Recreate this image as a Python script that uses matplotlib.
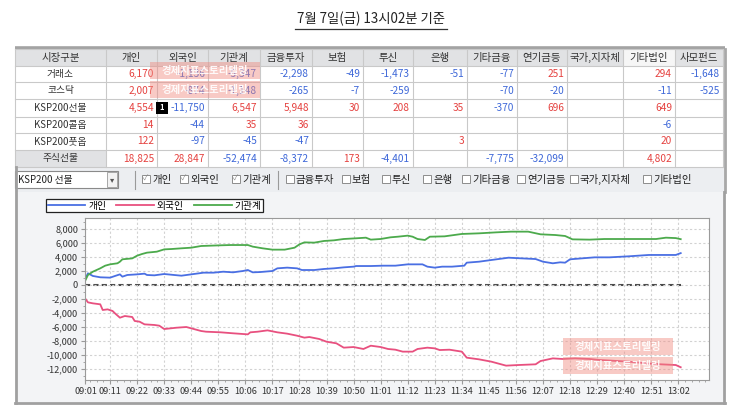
import matplotlib
matplotlib.use("Agg")
import matplotlib.pyplot as plt
from matplotlib.patches import Rectangle
import numpy as np

plt.rcParams['font.family'] = ['Noto Sans CJK KR', 'DejaVu Sans']

# ---- data ----
title = "7월 7일(금) 13시02분 기준"

col_names = ["개인", "외국인", "기관계", "금융투자", "보험", "투신", "은행",
             "기타금융", "연기금등", "국가,지자체", "기타법인", "사모펀드"]
row_names = ["거래소", "코스닥", "KSP200선물", "KSP200콜옵", "KSP200풋옵", "주식선물"]
tbl_vals = [
    [6170, -1136, -5347, -2298, -49, -1473, -51, -77, 251, None, 294, -1648],
    [2007, -874, -1148, -265, -7, -259, None, -70, -20, None, -11, -525],
    [4554, -11750, 6547, 5948, 30, 208, 35, -370, 696, None, 649, None],
    [14, -44, 35, 36, None, None, None, None, None, None, -6, None],
    [122, -97, -45, -47, None, None, 3, None, None, None, 20, None],
    [18825, 28847, -52474, -8372, 173, -4401, None, -7775, -32099, None, 4802, None],
]

checks = ["개인", "외국인", "기관계"]
unchecks = ["금융투자", "보험", "투신", "은행", "기타금융", "연기금등", "국가,지자체", "기타법인"]

# minutes after 09:00
gaein_t = [1, 2, 4, 7, 11, 13, 15, 16, 18, 22, 25, 26, 29, 33, 37, 40, 44, 49, 53, 57,
           61, 65, 67, 69, 72, 77, 79, 83, 87, 89, 94, 98, 102, 106, 110, 111, 117, 122,
           127, 132, 138, 140, 143, 146, 150, 155, 156, 161, 166, 173, 178, 184, 187, 191,
           194, 196, 198, 203, 208, 214, 222, 230, 241, 243]
gaein_v = [950, 1670, 1290, 1100, 1050, 1290, 1520, 1190, 1430, 1520, 1620, 1430, 1380,
           1570, 1430, 1330, 1520, 1760, 1760, 1900, 1810, 2000, 2140, 1810, 1850, 2000,
           2380, 2480, 2380, 2140, 2140, 2290, 2380, 2520, 2620, 2710, 2710, 2760, 2760,
           2950, 2950, 2620, 2480, 2620, 2620, 2760, 3190, 3330, 3570, 3900, 3810, 3710,
           3330, 3100, 3240, 3190, 3670, 3810, 3950, 3950, 4100, 4290, 4290, 4554]

foreign_t = [1, 2, 4, 7, 8, 10, 12, 13, 15, 17, 20, 21, 23, 25, 29, 31, 33, 38, 42, 44,
             48, 50, 56, 61, 67, 68, 71, 75, 79, 83, 87, 90, 92, 96, 99, 103, 106, 110,
             114, 117, 121, 124, 127, 130, 134, 136, 140, 143, 145, 149, 154, 156, 161,
             166, 172, 177, 184, 186, 191, 195, 200, 206, 210, 215, 222, 229, 235, 241, 243]
foreign_v = [-2000, -2480, -2620, -2760, -3570, -3480, -3710, -4050, -4670, -4430, -4570,
             -5140, -5240, -5620, -5710, -5810, -6290, -6100, -6000, -6190, -6570, -6670,
             -6760, -6900, -7050, -6760, -6670, -6480, -6760, -6950, -7240, -7520, -7430,
             -7710, -8100, -8330, -8950, -8860, -9140, -8670, -8860, -9140, -9240, -9520,
             -9520, -9140, -8950, -9050, -9290, -9240, -9520, -10380, -10620, -10950,
             -11520, -11430, -11330, -10860, -10480, -10570, -10480, -10570, -10710,
             -10810, -10950, -11190, -11330, -11430, -11750]

inst_t = [1, 2, 4, 7, 9, 11, 14, 15, 16, 20, 22, 24, 26, 30, 33, 36, 40, 44, 48, 52, 56,
          60, 67, 69, 73, 77, 82, 86, 88, 90, 94, 98, 102, 106, 111, 115, 117, 121, 125,
          128, 132, 134, 136, 139, 141, 147, 154, 161, 168, 174, 181, 186, 192, 196, 199,
          206, 212, 233, 237, 241, 243]
inst_v = [700, 1430, 1900, 2380, 2760, 2950, 3100, 3330, 3670, 3800, 4190, 4430, 4620,
          4760, 5090, 5140, 5240, 5330, 5570, 5620, 5670, 5710, 5710, 5480, 5240, 5050,
          5050, 5330, 5810, 6090, 6050, 6290, 6380, 6570, 6670, 6760, 6480, 6570, 6810,
          6900, 7050, 6900, 6570, 6430, 6900, 6950, 7290, 7380, 7520, 7620, 7620, 7240,
          7140, 7000, 6520, 6480, 6570, 6570, 6760, 6700, 6547]

tick_labels = ["09:01", "09:11", "09:22", "09:33", "09:44", "09:55", "10:06", "10:17",
               "10:28", "10:39", "10:50", "11:01", "11:12", "11:23", "11:34", "11:45",
               "11:56", "12:07", "12:18", "12:29", "12:40", "12:51", "13:02"]
y_ticks = [8000, 6000, 4000, 2000, 0, -2000, -4000, -6000, -8000, -10000, -12000]

RED = "#e5413f"
BLUE = "#3d67d8"
C_GAEIN = "#4a6fe3"
C_FOREIGN = "#e8507f"
C_INST = "#4caa4c"

W, H = 743, 420
fig = plt.figure(figsize=(W / 100, H / 100), dpi=100)
fig.patch.set_facecolor("white")

# background axes in pixel coordinates for the screen widgets
bg = fig.add_axes([0, 0, 1, 1])
bg.set_xlim(0, W)
bg.set_ylim(H, 0)
bg.axis("off")

# title
bg.text(371, 19, title, ha="center", va="center", fontsize=9.6, color="#222")
bg.plot([295, 447], [28.5, 28.5], color="#333", lw=0.9)
bg.plot([15, 725], [47.5, 47.5], color="#a3a3a3", lw=2.6, solid_capstyle="butt")

# table
col_x = [15, 106, 157, 208, 260, 312, 363, 413, 467, 517, 567, 623, 675, 723]
row_y = [49, 66, 82, 99, 117, 133, 150, 167]
GRID = "#c9c9c9"
HEAD = "#e1e2e4"
bg.add_patch(Rectangle((col_x[0], row_y[0]), col_x[-1] - col_x[0], row_y[-1] - row_y[0],
                       fc="white", ec="none"))
for j in range(len(col_x) - 1):
    fc = "#f6f6f6" if j == 11 else HEAD
    bg.add_patch(Rectangle((col_x[j], row_y[0]), col_x[j + 1] - col_x[j], row_y[1] - row_y[0],
                           fc=fc, ec="none"))
bg.add_patch(Rectangle((col_x[0], row_y[6]), col_x[1] - col_x[0], row_y[7] - row_y[6],
                       fc=HEAD, ec="none"))
for x in col_x:
    bg.plot([x, x], [row_y[0], row_y[-1]], color=GRID, lw=0.8)
for y in row_y:
    bg.plot([col_x[0], col_x[-1]], [y, y], color=GRID, lw=0.8)
bg.plot([col_x[-1] + 1.5, col_x[-1] + 1.5], [row_y[0], 192], color="#a8a8a8", lw=2)

bg.text((col_x[0] + col_x[1]) / 2, (row_y[0] + row_y[1]) / 2, "시장구분",
        ha="center", va="center", fontsize=7.5, color="#333")
for j, name in enumerate(col_names):
    bg.text((col_x[j + 1] + col_x[j + 2]) / 2, (row_y[0] + row_y[1]) / 2, name,
            ha="center", va="center", fontsize=7.5, color="#333")
for i, name in enumerate(row_names):
    yc = (row_y[i + 1] + row_y[i + 2]) / 2
    bg.text((col_x[0] + col_x[1]) / 2, yc, name, ha="center", va="center",
            fontsize=7, color="#333")
    for j, v in enumerate(tbl_vals[i]):
        if v is None:
            continue
        bg.text(col_x[j + 2] - 3, yc, f"{v:,}", ha="right", va="center", fontsize=7.3,
                color=RED if v > 0 else BLUE)

# control bar
bg.add_patch(Rectangle((15, 167), 710, 25, fc="#eceef1", ec="none"))
bg.add_patch(Rectangle((15, 171), 103, 17, fc="white", ec="#8a8a8a", lw=0.8))
bg.add_patch(Rectangle((107, 172), 10, 15, fc="#f2f2f2", ec="#9a9a9a", lw=0.6))
bg.text(112, 179.5, "▾", ha="center", va="center", fontsize=6, color="#555")
bg.text(18, 179.5, "KSP200 선물", ha="left", va="center", fontsize=7, color="#222")
bg.plot([135, 135], [171, 189], color="#9a9a9a", lw=0.8)
bg.plot([278, 278], [171, 189], color="#9a9a9a", lw=0.8)
check_x = [142, 180, 232]
for x, name in zip(check_x, checks):
    bg.add_patch(Rectangle((x, 175), 8, 8, fc="white", ec="#8c8c8c", lw=0.7))
    bg.text(x + 4, 179.3, "✓", ha="center", va="center", fontsize=5.5, color="#8a8a8a")
    bg.text(x + 10, 179.5, name, ha="left", va="center", fontsize=7.5, color="#222")
uncheck_x = [286, 342, 382, 423, 462, 517, 570, 643]
for x, name in zip(uncheck_x, unchecks):
    bg.add_patch(Rectangle((x, 175), 8, 8, fc="white", ec="#8c8c8c", lw=0.7))
    bg.text(x + 10, 179.5, name, ha="left", va="center", fontsize=7.5, color="#222")

# chart panel
bg.add_patch(Rectangle((15, 192), 708, 210, fc="#f3f4f6", ec="none"))
bg.plot([15.5, 15.5], [167, 403], color="#a0a0a0", lw=2)
bg.plot([15, 725], [402.5, 402.5], color="#a0a0a0", lw=2)
bg.plot([723.5, 723.5], [192, 403], color="#a0a0a0", lw=2)

# ---- line chart ----
ax = fig.add_axes([85 / W, 1 - 380 / H, (709 - 85) / W, (380 - 218) / H])
ax.set_facecolor("white")
l1, = ax.plot(gaein_t, gaein_v, color=C_GAEIN, lw=1.3, label="개인")
l2, = ax.plot(foreign_t, foreign_v, color=C_FOREIGN, lw=1.3, label="외국인")
l3, = ax.plot(inst_t, inst_v, color=C_INST, lw=1.3, label="기관계")
ax.axhline(0, xmin=0, xmax=(243 - 0.8) / (254.5 - 0.8), color="#4a4a4a", lw=1.5,
           dashes=(2.5, 1.5), zorder=1)

tick_pos = [int(s[:2]) * 60 + int(s[3:]) - 540 for s in tick_labels]
ax.set_xticks(tick_pos)
ax.set_xticklabels(tick_labels)
ax.set_xticks(np.arange(0, 255, 11 / 4), minor=True)
ax.set_yticks(y_ticks)
ax.set_yticklabels([f"{v:,}" for v in y_ticks])
ax.set_yticks(np.arange(-13000, 9600, 1000), minor=True)
ax.set_xlim(0.8, 254.5)
ax.set_ylim(-13570, 9570)
ax.grid(True, which="major", color="#d2d2d2", lw=0.8, dashes=(2, 2))
ax.tick_params(which="both", labelsize=6.6, colors="#9a9a9a", labelcolor="#333",
               direction="out")
ax.tick_params(which="major", length=3, pad=2)
ax.tick_params(which="minor", length=1.5)
for s in ax.spines.values():
    s.set_color("#9a9a9a")
    s.set_linewidth(0.8)

leg = ax.legend(handles=[l1, l2, l3], ncol=3, loc="center",
                bbox_to_anchor=(154.5 / W, 1 - 205.5 / H), bbox_transform=fig.transFigure,
                fontsize=7, handlelength=3.9, handletextpad=0.3, columnspacing=1.0,
                borderpad=0.15, fancybox=False, framealpha=1, edgecolor="#222")
leg.get_frame().set_linewidth(0.9)

# ---- overlay: watermarks ----
top = fig.add_axes([0, 0, 1, 1])
top.set_xlim(0, W)
top.set_ylim(H, 0)
top.axis("off")
top.patch.set_alpha(0)
wm = "경제지표스토리텔링"
for (x0, y0) in [(150, 62), (563, 338)]:
    for k in range(2):
        top.add_patch(Rectangle((x0, y0 + k * 19), 110, 17, fc="#f08a80", ec="none", alpha=0.45))
        top.text(x0 + 55, y0 + k * 19 + 8.5, wm, ha="center", va="center", fontsize=7.5,
                 color="white", fontweight="bold", alpha=0.9)
top.add_patch(Rectangle((156, 102), 12, 12, fc="black", ec="none"))
top.text(162, 108, "1", ha="center", va="center", fontsize=5.5, color="white",
         fontweight="bold")

fig.savefig("out.png", dpi=100)
